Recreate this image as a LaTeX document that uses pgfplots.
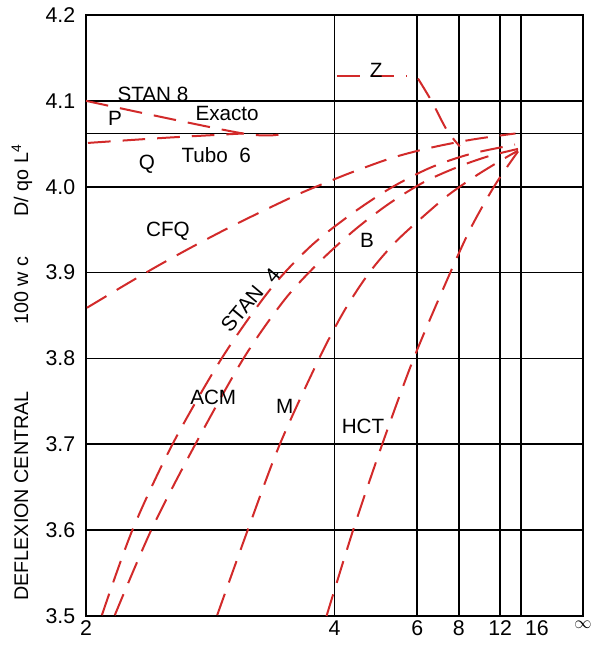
\documentclass[border=0pt]{standalone}
\usepackage{pgfplots}
\pgfplotsset{compat=1.18}
\usepackage{fontspec}
\setmainfont{Liberation Sans}
\definecolor{cred}{RGB}{210,42,42}
\tikzset{rd/.style={cred, line width=1.5pt, dash pattern=on 17pt off 9pt, smooth, no markers}}
\begin{document}
\begin{tikzpicture}
\begin{axis}[
  scale only axis, width=372.75pt, height=450.75pt,
  xmin=0, xmax=0.5, x dir=reverse, ymin=3.5, ymax=4.2,
  axis line style={line width=1.5pt, black},
  xtick={0,0.0625,0.083333,0.125,0.166667,0.25,0.5},
  xticklabels={{\scalebox{0.75}{$\infty$}},\hspace*{24pt}16,12,8,6,4,2},
  ytick={3.5,3.6,3.7,3.8,3.9,4.0,4.1,4.2},
  yticklabels={3.5,3.6,3.7,3.8,3.9,4.0,4.1,4.2},
  extra y ticks={4.062}, extra y tick labels={},
  extra y tick style={grid=major, major tick length=0pt},
  xmajorgrids, ymajorgrids,
  grid style={black, line width=1.3pt},
  major tick length=0pt,
  /pgf/number format/assume math mode=true,
  tick label style={font=\fontsize{16}{19}\selectfont},
  yticklabel style={xshift=-4.5pt},
  ylabel={DEFLEXION CENTRAL\hspace{50pt}100 w c\hspace{30pt}D/ qo L\textsuperscript{4}},
  ylabel style={font=\fontsize{14.8}{17}\selectfont, at={(axis description cs:-0.129,0.405)}, anchor=center},
]
% P (STAN 8)
\addplot[rd] coordinates {(0.5,4.100) (0.342,4.062) (0.30,4.062)};
% Q (Tubo 6)
\addplot[rd] coordinates {(0.498,4.051) (0.42,4.057) (0.342,4.062)};
% Z
\addplot[rd, sharp plot] coordinates {(0.2475,4.129) (0.177,4.129)};
\addplot[rd] coordinates {(0.166,4.126) (0.152,4.099) (0.137,4.066) (0.124,4.047)};
% CFQ
\addplot[rd] coordinates {(0.499,3.859) (0.463,3.884) (0.429,3.907) (0.393,3.930) (0.355,3.953) (0.318,3.974) (0.285,3.992) (0.258,4.005) (0.232,4.017) (0.191,4.034) (0.151,4.046) (0.111,4.055) (0.068,4.062)};
% STAN 4
\addplot[rd] coordinates {(0.484,3.501) (0.453,3.601) (0.413,3.700) (0.363,3.801) (0.3149,3.880) (0.2746,3.930) (0.2344,3.967) (0.1942,3.998) (0.1539,4.022) (0.1137,4.038) (0.0684,4.049)};
% ACM
\addplot[rd] coordinates {(0.471,3.501) (0.434,3.601) (0.390,3.700) (0.341,3.801) (0.2998,3.869) (0.2646,3.913) (0.2294,3.950) (0.1942,3.981) (0.159,4.006) (0.1237,4.024) (0.0936,4.036) (0.0654,4.044)};
% M
\addplot[rd] coordinates {(0.368,3.501) (0.337,3.601) (0.305,3.700) (0.265,3.801) (0.2394,3.857) (0.2143,3.901) (0.1891,3.935) (0.164,3.962) (0.1358,3.990) (0.1087,4.012) (0.0835,4.030) (0.0654,4.042)};
% HCT
\addplot[rd] coordinates {(0.258,3.500) (0.231,3.601) (0.202,3.700) (0.171,3.798) (0.1388,3.886) (0.1137,3.950) (0.0885,4.002) (0.0654,4.041)};
\begin{scope}[every node/.style={font=\fontsize{15.5}{18}\selectfont, inner sep=0pt}]
\node at (axis cs:0.4326,4.108) {STAN 8};
\node at (axis cs:0.4708,4.079) {P};
\node at (axis cs:0.358,4.085) {Exacto};
\node at (axis cs:0.369,4.037) {Tubo\ \ 6};
\node at (axis cs:0.4386,4.026) {Q};
\node at (axis cs:0.208,4.136) {Z};
\node at (axis cs:0.4175,3.948) {CFQ};
\node at (axis cs:0.2173,3.938) {B};
\node[rotate=50] at (axis cs:0.3430,3.858) {STAN};
\node[rotate=50] at (axis cs:0.3125,3.897) {4};
\node at (axis cs:0.372,3.755) {ACM};
\node at (axis cs:0.300,3.744) {M};
\node at (axis cs:0.2213,3.721) {HCT};
\end{scope}
\coordinate (SW) at (axis description cs:0,0);
\coordinate (NE) at (axis description cs:1,1);
\end{axis}
\pgfresetboundingbox
\path[use as bounding box] ([xshift=-64.5pt,yshift=-21.75pt]SW) rectangle ([xshift=10.5pt,yshift=11.25pt]NE);
\end{tikzpicture}
\end{document}
